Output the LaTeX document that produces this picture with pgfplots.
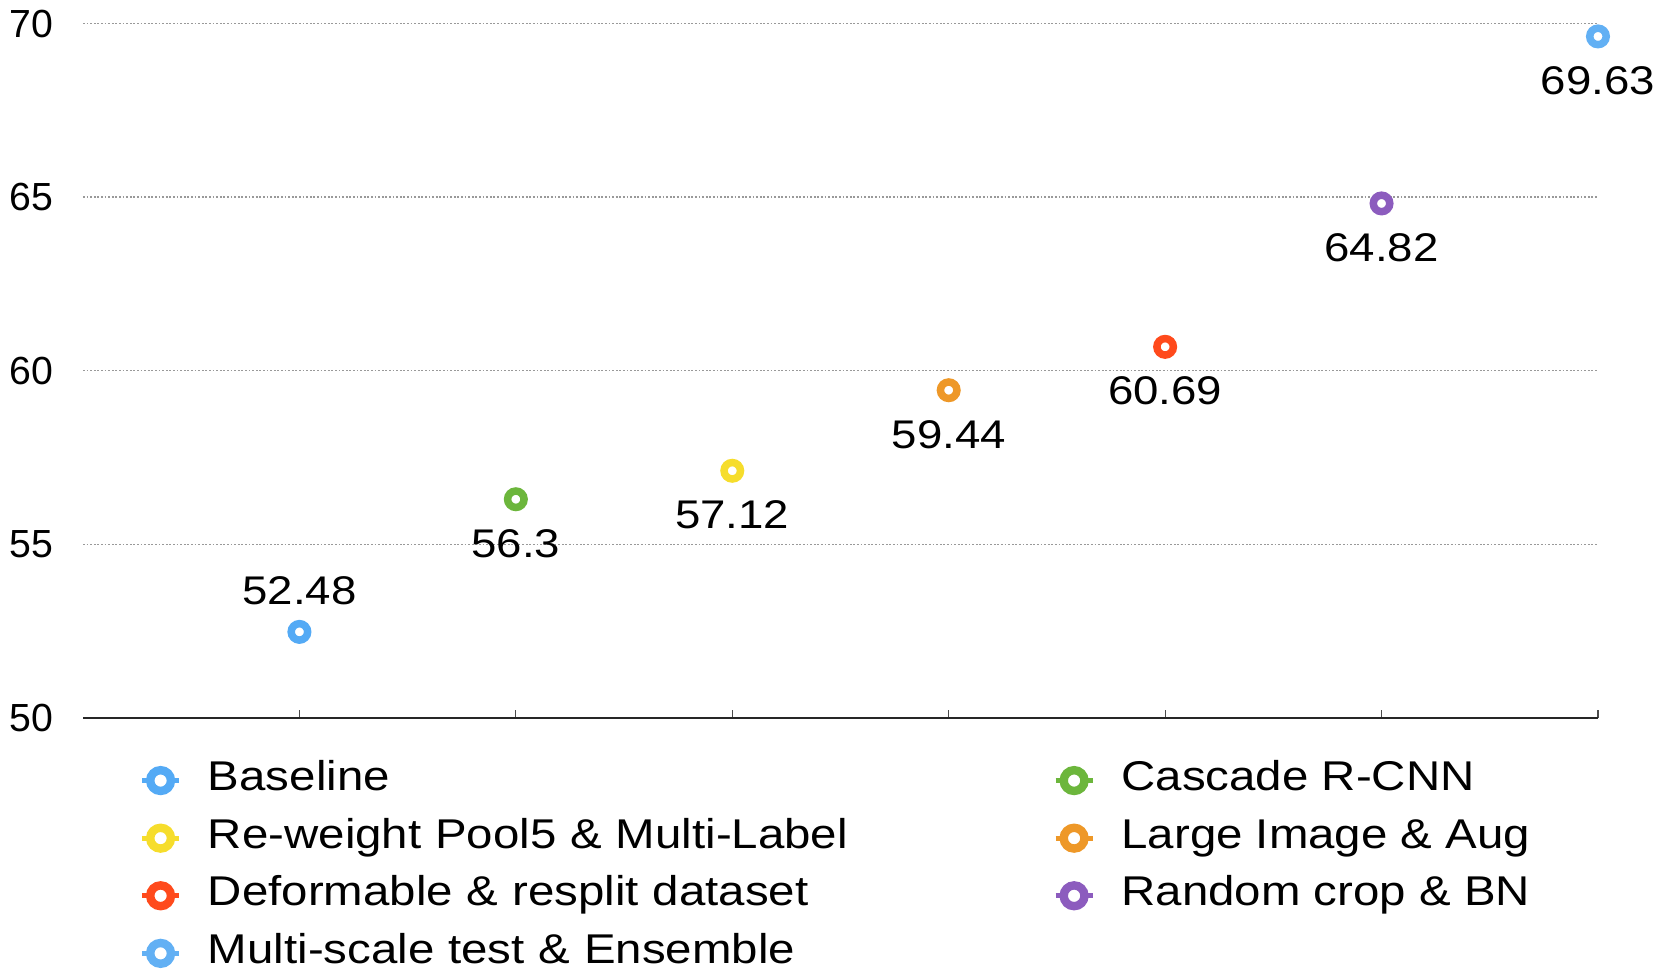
\documentclass[border=0pt]{standalone}
\usepackage{fontspec}
\setmainfont{Liberation Sans}[FakeStretch=1.14]
\newfontfamily\plainfont{Liberation Sans}
\usepackage{pgfplots}
\pgfplotsset{compat=1.18}
\definecolor{cblue}{RGB}{84,170,245}
\definecolor{cgreen}{RGB}{108,182,60}
\definecolor{cyellow}{RGB}{246,221,44}
\definecolor{corange}{RGB}{238,152,40}
\definecolor{cred}{RGB}{255,74,28}
\definecolor{cpurple}{RGB}{140,92,190}
\definecolor{cblue2}{RGB}{98,176,244}
\pgfplotsset{
  ring/.style={only marks, mark=*, mark size=2.06pt, line width=1.875pt,
    draw=#1, mark options={draw=#1, fill=white},
    legend image code/.code={
      \draw[#1, line width=1.3pt] (-4.6pt,0pt)--(4.6pt,0pt);
      \draw[#1, fill=white, line width=2.1pt] (0pt,0pt) circle (2.6pt);
    }},
}
\begin{document}
\begin{tikzpicture}
\fontsize{10}{12}\selectfont
\useasboundingbox (-20.75pt,-63pt) rectangle (397.5pt,179.5pt);
\begin{axis}[
  at={(0pt,0pt)}, anchor=south west,
  scale only axis, width=378.75pt, height=173.6pt,
  xmin=0, xmax=7, ymin=50, ymax=70,
  xtick={1,...,7}, xticklabels={}, 
  ytick={50,55,...,70},
  /pgf/number format/assume math mode=true,
  yticklabel style={font=\plainfont\fontsize{9.8}{12}\selectfont, xshift=-4.0pt},
  ytick style={draw=none},
  xtick style={black!70, line width=0.3pt},
  major tick length=2pt, tick align=inside,
  axis x line*=bottom, axis y line*=left,
  x axis line style={black!85, line width=0.4pt},
  y axis line style={draw=none},
  ymajorgrids,
  major grid style={gray!80, line width=0.35pt, dash pattern=on 0.45pt off 0.45pt},
  clip=false,
  nodes near coords,
  nodes near coords style={font=\fontsize{10}{12}\selectfont, anchor=center, text=black},
  every node near coord/.append style={yshift=-11.1pt},
  legend columns=2,
  legend cell align=left,
  legend style={at={(0,0)}, anchor=north west, xshift=14.15pt, yshift=-11.15pt,
    draw=none, fill=none, inner sep=0pt, outer sep=0pt,
    font=\fontsize{10.4}{12}\selectfont,
    nodes={inner xsep=0pt, inner ysep=0pt, text height=7pt, text depth=2pt},
    row sep=5.4pt,
    /tikz/every odd column/.append style={column sep=6.6pt},
    /tikz/every even column/.append style={column sep=11.28pt},
  },
]
\addplot[ring=cblue, every node near coord/.append style={yshift=21.3pt}] coordinates {(1,52.48)};
\addlegendentry[text width=200pt]{Baseline}
\addplot[ring=cgreen] coordinates {(2,56.3)};
\addlegendentry{Cascade R-CNN}
\addplot[ring=cyellow] coordinates {(3,57.12)};
\addlegendentry[text width=200pt]{Re-weight Pool5 \& Multi-Label}
\addplot[ring=corange] coordinates {(4,59.44)};
\addlegendentry{Large Image \& Aug}
\addplot[ring=cred] coordinates {(5,60.69)};
\addlegendentry[text width=200pt]{Deformable \& resplit dataset}
\addplot[ring=cpurple] coordinates {(6,64.82)};
\addlegendentry{Random crop \& BN}
\addplot[ring=cblue2] coordinates {(7,69.63)};
\addlegendentry[text width=200pt]{Multi-scale test \& Ensemble}
\end{axis}
\end{tikzpicture}
\end{document}
